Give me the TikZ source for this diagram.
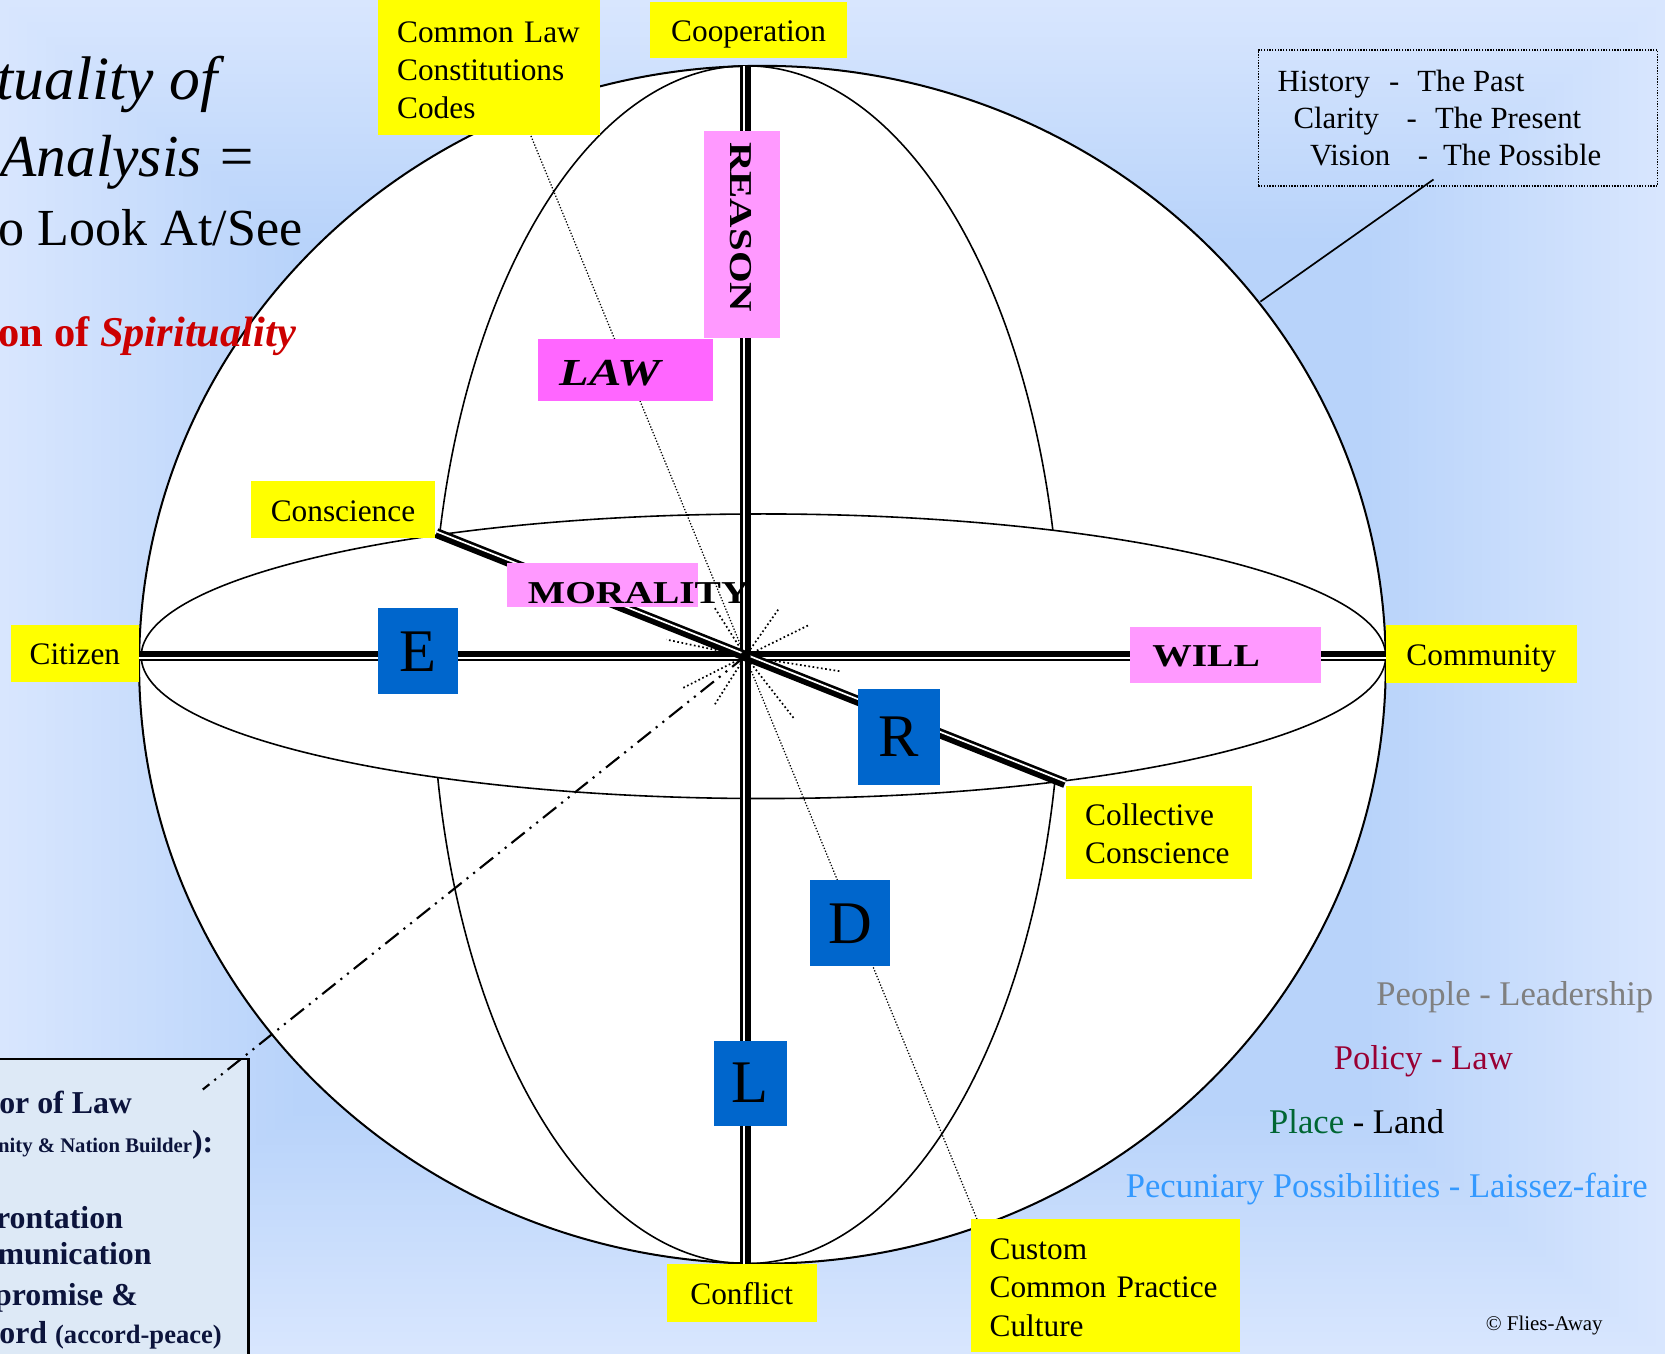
\documentclass[tikz,border=0pt]{standalone}
\usepackage{fontspec}
\setmainfont{Liberation Serif}
\usepackage{graphicx}

\definecolor{bgin}{RGB}{184,211,250}
\definecolor{bgout}{RGB}{216,230,254}
\definecolor{ybox}{RGB}{255,255,0}
\definecolor{pbox}{RGB}{255,153,255}
\definecolor{lawpink}{RGB}{255,102,255}
\definecolor{bbox}{RGB}{0,102,204}
\definecolor{titlered}{RGB}{204,0,0}
\definecolor{peoplegray}{RGB}{128,128,128}
\definecolor{policyred}{RGB}{153,0,51}
\definecolor{placegreen}{RGB}{0,102,51}
\definecolor{pecblue}{RGB}{51,153,255}
\definecolor{navy}{RGB}{12,20,60}
\definecolor{paper}{RGB}{221,233,246}

\tikzset{
  txt/.style={inner sep=0pt},
  yb/.style={fill=ybox, inner sep=0pt, font=\fontsize{29.5}{36}\selectfont},
  ybs/.style={yb, text height=21.4pt, text depth=0pt},
  ybm/.style={yb, align=left, inner xsep=18pt},
  pk/.style={fill=pbox, inner sep=0pt},
  bl/.style={fill=bbox, inner sep=0pt, font=\fontsize{57}{57}\selectfont},
  caps/.style={inner sep=0pt, font=\bfseries\fontsize{30}{30}\selectfont},
  axblack/.style={line width=9.4pt},
  axgap/.style={white, line width=1.6pt},
  dotln/.style={line width=1.2pt, dash pattern=on 1.2pt off 1.7pt},
  rayln/.style={line width=1.6pt, dash pattern=on 1.6pt off 2.4pt},
  ddotln/.style={line width=2pt, dash pattern=on 16pt off 6pt on 2pt off 6pt on 2pt off 6pt},
  medtxt/.style={txt, anchor=base east, text=navy, font=\bfseries\fontsize{30}{30}\selectfont},
  sidetxt/.style={txt, anchor=base west, font=\fontsize{32.6}{32.6}\selectfont},
  histtxt/.style={txt, anchor=base west, font=\fontsize{29}{29}\selectfont},
}

\begin{document}
\begin{tikzpicture}[x=1pt,y=-1pt]
\useasboundingbox (0,0) rectangle (1568,1275);
% rectangular "from centre" background gradient
\fill[bgout] (0,0) rectangle (1568,1275);
\foreach \i in {1,...,32} {
  \pgfmathsetmacro\tt{1-\i*0.011}
  \pgfmathsetmacro\pp{\i*100/32}
  \fill[color=bgin!\pp!bgout] ({784-784*\tt},{637.5-637.5*\tt}) rectangle ({784+784*\tt},{637.5+637.5*\tt});
}

% lower-left text box (cut by the page edge)
\node[draw, line width=2.5pt, fill=paper, inner sep=0pt, minimum width=270pt, minimum height=320pt, anchor=north east] (medbox) at (235,996) {};

% sphere
\draw[fill=white, line width=1.9pt] (718,626) ellipse [x radius=587pt, y radius=564pt];
\draw[line width=1.5pt] (703,626) ellipse [x radius=296pt, y radius=564pt];
\draw[fill=white, line width=1.5pt] (719,618) ellipse [x radius=586pt, y radius=134pt];

% key points
\coordinate (O) at (702,618);
\coordinate (axL) at (131,618);
\coordinate (axR) at (1305,618);
\coordinate (axT) at (702,62);
\coordinate (axB) at (702,1190);
\coordinate (dgA) at (411,502);
\coordinate (dgB) at (1003,737.5);
\coordinate (clTop) at (500,128);
\coordinate (clBot) at (920,1148);
\coordinate (ddEnd) at (191,1026);

% dotted lines
\draw[dotln] (clTop) -- (clBot);
\foreach \dx/\dy in {32/-45.5, 60.6/-29.8, 88.8/14.1, 46.5/59.6, -28.9/45.5, -58.7/29.8, -74.4/-15.7, -28.9/-45.5}
  \draw[rayln] (O) -- ++(\dx,\dy);
\draw[ddotln] (O) -- (ddEnd);

% axes (thick-thin compound lines)
\draw[axblack] (axL) -- (axR);
\draw[axgap, transform canvas={yshift=-1.4pt}] (axL) -- (axR);
\draw[axblack, line width=10pt] (axT) -- (axB);
\draw[axgap, transform canvas={xshift=-1.6pt}] (axT) -- (axB);
\draw[axblack] (dgA) -- (dgB);
\draw[axgap, transform canvas={shift={(0.52pt,1.30pt)}}] (dgA) -- (dgB);
\fill (O) circle (5pt);

% history box and its pointer
\node[draw, line width=1.3pt, dash pattern=on 1.3pt off 1.3pt, inner sep=0pt, minimum width=376pt, minimum height=128pt] (hist) at (1373,111) {};
\node[histtxt] (h1) at (1203,85.7) {History\hspace{18pt}-\hspace{17pt}The Past};
\node[histtxt] (h2) at (1218,120.8) {Clarity\hspace{26pt}-\hspace{17pt}The Present};
\node[histtxt] (h3) at (1233.5,156.3) {Vision\hspace{26pt}-\hspace{14pt}The Possible};
\coordinate (histtip) at (1350,169);
\coordinate (sphhit) at (1187,284);
\draw[line width=1.6pt] (histtip) -- (sphhit);

% yellow boxes
\node[ybm, minimum width=209pt, minimum height=127pt, text width=173pt] (commonlaw) at (460.5,63.5) {\rule{0pt}{25pt}Common Law\\Constitutions\\Codes};
\node[ybs, minimum width=186pt, minimum height=53pt] (coop) at (705,28.5) {Cooperation};
\node[ybs, minimum width=174pt, minimum height=54pt] (consc) at (323,480) {Conscience};
\node[ybs, minimum width=121pt, minimum height=53pt] (citizen) at (70.5,615.5) {Citizen};
\node[ybs, minimum width=180pt, minimum height=54pt] (community) at (1395,616) {Community};
\node[ybm, minimum width=175pt, minimum height=88pt, text width=139pt] (collective) at (1091.5,784) {\rule{0pt}{23pt}Collective\\Conscience};
\node[ybs, minimum width=141pt, minimum height=55pt] (conflict) at (698.5,1217.5) {Conflict};
\node[ybm, minimum width=254pt, minimum height=126pt, text width=218pt] (custom) at (1041,1210.5) {\rule{0pt}{24pt}Custom\\Common Practice\\Culture};

% pink boxes
\node[pk, minimum width=72pt, minimum height=195pt] (reasonbox) at (699,220.5) {};
\node[caps, rotate=-90] (reason) at (698,214) {\scalebox{1.28}[1]{REASON}};
\node[fill=lawpink, inner sep=0pt, minimum width=164pt, minimum height=59pt] (lawbox) at (589,348.5) {};
\node[txt, anchor=base west, font=\bfseries\itshape\fontsize{36}{36}\selectfont] (law) at (527,363) {\scalebox{1.27}[1]{LAW}};
\node[pk, minimum width=180pt, minimum height=42pt] (moralbox) at (567,551) {};
\node[caps, anchor=base west] (morality) at (497,568) {\scalebox{1.24}[1]{MORALITY}};
\node[pk, minimum width=180pt, minimum height=53pt] (willbox) at (1154,616.5) {};
\node[caps, anchor=base west] (will) at (1085,628) {\scalebox{1.24}[1]{WILL}};

% blue boxes
\node[bl, minimum width=75pt, minimum height=81pt] (bE) at (393.5,613.5) {E};
\node[bl, minimum width=77pt, minimum height=90pt] (bR) at (846.5,694) {R};
\node[bl, minimum width=75pt, minimum height=81pt] (bD) at (800.5,869.5) {D};
\node[bl, minimum width=69pt, minimum height=80pt] (bL) at (706.5,1020) {L};

% title (cut at the left page edge)
\node[txt, anchor=base east, font=\itshape\fontsize{58}{58}\selectfont] (t1) at (205,94) {tuality of};
\node[txt, anchor=base west, font=\itshape\fontsize{56}{56}\selectfont] (t2) at (0,166) {Analysis =};
\node[txt, anchor=base east, font=\fontsize{49}{49}\selectfont] (t3) at (285,231) {o Look At/See};
\node[txt, anchor=base east, text=titlered, font=\bfseries\fontsize{40}{40}\selectfont] (t4) at (279,326) {on of \textit{Spirituality}};

% right-hand legend
\node[sidetxt, text=peoplegray] (people) at (1296,947) {People - Leadership};
\node[sidetxt, text=policyred] (policy) at (1256,1007) {Policy - Law};
\node[sidetxt] (place) at (1195,1067) {\textcolor{placegreen}{Place} - Land};
\node[sidetxt, text=pecblue] (pecun) at (1060,1128) {Pecuniary Possibilities - Laissez-faire};
\node[txt, anchor=base west, font=\fontsize{19.7}{19.7}\selectfont] (copy) at (1399,1253) {© Flies-Away};

% lower-left box text
\node[medtxt] (m1) at (124.5,1048.5) {or of Law};
\node[medtxt, font=\bfseries\fontsize{19.5}{20}\selectfont] (m2) at (201,1085.5) {nity \& Nation Builder{\fontsize{30}{30}\selectfont):}};
\node[medtxt] (m3) at (116,1156.5) {rontation};
\node[medtxt] (m4) at (143,1191) {munication};
\node[medtxt] (m5) at (130,1229) {promise \&};
\node[medtxt] (m6) at (209,1265) {ord {\fontsize{25}{25}\selectfont(accord-peace)}};
\end{tikzpicture}
\end{document}
